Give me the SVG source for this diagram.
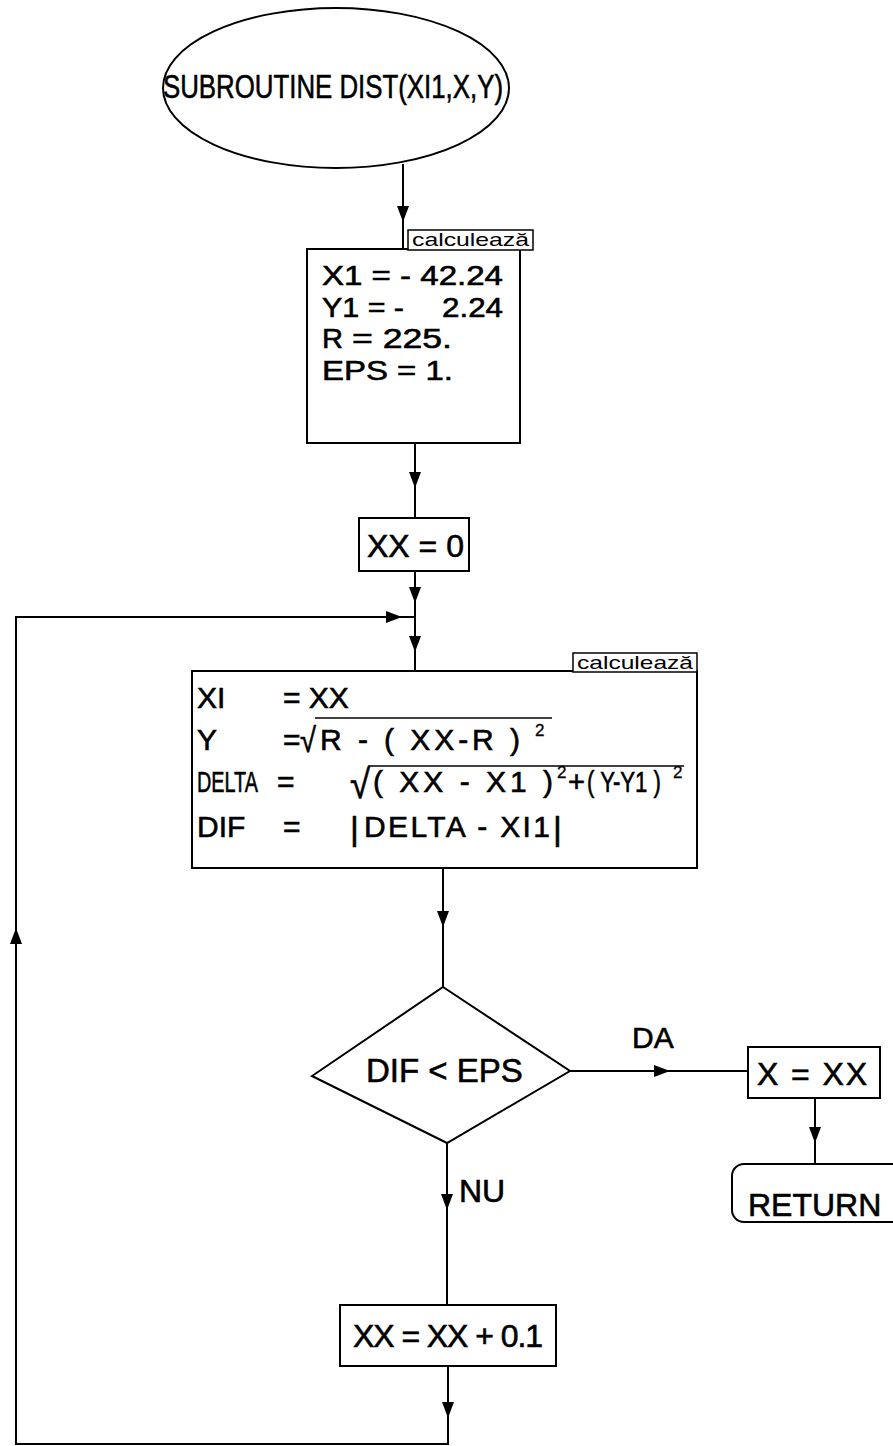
<svg xmlns="http://www.w3.org/2000/svg" width="893" height="1446" viewBox="0 0 893 1446">
<defs>
<marker id="ah" markerUnits="userSpaceOnUse" markerWidth="18" markerHeight="12" refX="16" refY="6" orient="auto">
<path d="M0,0 L16,6 L0,12 z" fill="#000"/>
</marker>
<style>
.s{fill:#fff;stroke:#000;stroke-width:2}
.c{fill:none;stroke:#000;stroke-width:2}
.t{font-family:"Liberation Sans",Arial,Helvetica,sans-serif;fill:#000;stroke:#000;stroke-width:0.6}
.lb{fill:#fff;stroke:#000;stroke-width:1.5}
.sm{font-family:"Liberation Sans",Arial,Helvetica,sans-serif;fill:#000;font-size:19px}
.v{stroke:#000;stroke-width:1.5}
</style>
</defs>
<rect width="893" height="1446" fill="#fff"/>
<g id="connectors">
<path class="c" d="M403,164 V222" marker-end="url(#ah)"/>
<path class="c" d="M403,222 V249"/>
<path class="c" d="M415,443 V488" marker-end="url(#ah)"/>
<path class="c" d="M415,488 V518"/>
<path class="c" d="M415,571 V603" marker-end="url(#ah)"/>
<path class="c" d="M415,603 V652" marker-end="url(#ah)"/>
<path class="c" d="M415,652 V672"/>
<path class="c" d="M443,868 V927" marker-end="url(#ah)"/>
<path class="c" d="M443,927 V987"/>
<path class="c" d="M570,1071 H670" marker-end="url(#ah)"/>
<path class="c" d="M670,1071 H748"/>
<path class="c" d="M815,1098 V1143" marker-end="url(#ah)"/>
<path class="c" d="M815,1143 V1164"/>
<path class="c" d="M447,1143 V1210" marker-end="url(#ah)"/>
<path class="c" d="M447,1210 V1305"/>
<path class="c" d="M448,1366 V1418" marker-end="url(#ah)"/>
<path class="c" d="M448,1418 V1444 H16 V928" marker-end="url(#ah)"/>
<path class="c" d="M16,928 V617 H402" marker-end="url(#ah)"/>
<path class="c" d="M402,617 H415"/>
<text class="t" x="632" y="1048" font-size="30">DA</text>
<text class="t" x="459" y="1202" font-size="32">NU</text>
</g>
<g id="start">
<ellipse class="s" cx="336" cy="88" rx="173" ry="80"/>
<text class="t" x="163" y="98" font-size="34" textLength="340" lengthAdjust="spacingAndGlyphs">SUBROUTINE DIST(XI1,X,Y)</text>
</g>
<g id="init">
<rect class="s" x="307" y="249" width="213" height="194"/>
<rect class="lb" x="408" y="230" width="125" height="20"/>
<text class="sm" x="412" y="246" textLength="117" lengthAdjust="spacingAndGlyphs">calculează</text>
<text class="t" x="322" y="285" font-size="28" textLength="181" lengthAdjust="spacingAndGlyphs">X1 = - 42.24</text>
<text class="t" x="322" y="317" font-size="28" textLength="82" lengthAdjust="spacingAndGlyphs">Y1 = -</text>
<text class="t" x="442" y="317" font-size="28" textLength="61" lengthAdjust="spacingAndGlyphs">2.24</text>
<text class="t" x="322" y="348" font-size="28" textLength="21" lengthAdjust="spacingAndGlyphs">R</text>
<text class="t" x="352" y="348" font-size="28" textLength="100" lengthAdjust="spacingAndGlyphs">= 225.</text>
<text class="t" x="322" y="380" font-size="28" textLength="131" lengthAdjust="spacingAndGlyphs">EPS = 1.</text>
</g>
<g id="xx0">
<rect class="s" x="359" y="518" width="110" height="53"/>
<text class="t" x="367" y="557" font-size="32">XX = 0</text>
</g>
<g id="calc">
<rect class="s" x="192" y="671" width="505" height="197"/>
<rect class="lb" x="573" y="653" width="124" height="19"/>
<text class="sm" x="577" y="669" textLength="116" lengthAdjust="spacingAndGlyphs">calculează</text>
<text class="t" x="197" y="708" font-size="30">XI</text>
<text class="t" x="283" y="708" font-size="30">= XX</text>
<text class="t" x="197" y="750" font-size="30">Y</text>
<text class="t" x="283" y="750" font-size="30">=</text>
<text class="t" x="300" y="752" font-size="34" textLength="16" lengthAdjust="spacingAndGlyphs">√</text>
<line class="v" x1="315" y1="718" x2="552" y2="718"/>
<text class="t" x="320" y="750" font-size="30" textLength="200" lengthAdjust="spacing">R - ( XX-R )</text>
<text class="t" x="535" y="736" font-size="17" style="stroke-width:0.3">2</text>
<text class="t" transform="translate(197,792) scale(0.66,1)" font-size="30">DELTA</text>
<text class="t" x="277" y="792" font-size="30">=</text>
<text class="t" x="350" y="798" font-size="40" textLength="20" lengthAdjust="spacingAndGlyphs">√</text>
<line class="v" x1="368" y1="766" x2="684" y2="766"/>
<text class="t" x="373" y="792" font-size="30" textLength="180" lengthAdjust="spacing">( XX - X1 )</text>
<text class="t" x="557" y="778" font-size="17" style="stroke-width:0.3">2</text>
<text class="t" x="568" y="792" font-size="30" textLength="17" lengthAdjust="spacingAndGlyphs">+</text>
<text class="t" transform="translate(587,792) scale(0.74,1)" font-size="30">( Y-Y1 )</text>
<text class="t" x="673" y="778" font-size="17" style="stroke-width:0.3">2</text>
<text class="t" x="197" y="837" font-size="30">DIF</text>
<text class="t" x="283" y="837" font-size="30">=</text>
<text class="t" x="350" y="840" font-size="34">|</text>
<text class="t" x="364" y="837" font-size="30" textLength="186" lengthAdjust="spacing">DELTA - XI1</text>
<text class="t" x="553" y="840" font-size="34">|</text>
</g>
<g id="decision">
<polygon class="s" points="443,987 570,1071 447,1143 312,1076"/>
<text class="t" x="366" y="1082" font-size="33">DIF &lt; EPS</text>
</g>
<g id="assign">
<rect class="s" x="748" y="1047" width="132" height="51"/>
<text class="t" x="757" y="1085" font-size="32" textLength="110" lengthAdjust="spacing">X = XX</text>
</g>
<g id="return">
<rect class="s" x="732" y="1164" width="180" height="58" rx="12" ry="12"/>
<text class="t" x="748" y="1216" font-size="32">RETURN</text>
</g>
<g id="increment">
<rect class="s" x="340" y="1305" width="216" height="61"/>
<text class="t" x="353" y="1347" font-size="32" textLength="190" lengthAdjust="spacing">XX = XX + 0.1</text>
</g>
</svg>
